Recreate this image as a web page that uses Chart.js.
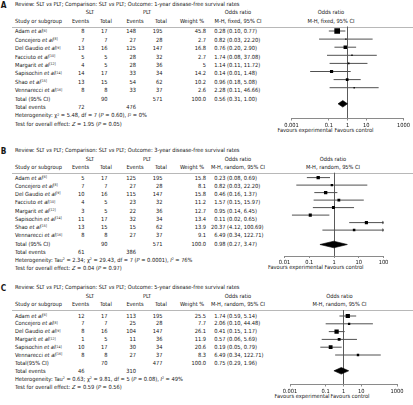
<!DOCTYPE html>
<html><head><meta charset="utf-8">
<script src="https://cdn.jsdelivr.net/npm/chart.js@4.4.1/dist/chart.umd.min.js"></script>
<style>
html,body{margin:0;padding:0;background:#fff;width:413px;height:405px;overflow:hidden}
#root{position:relative;width:413px;height:405px;font-family:'DejaVu Sans Condensed','DejaVu Sans',sans-serif;font-size:4.5px;color:#151515}
.t{position:absolute;white-space:nowrap;line-height:1}
.s{position:relative;top:-0.45em;font-size:0.62em}
canvas{position:absolute}
.rule{position:absolute;height:1px;background:#b8b8b8}
</style></head>
<body><div id="root"></div>
<script>
// ---------------- DATA ----------------
const studiesAB = ["Adam","Concejero","Del Gaudio","Facciuto","Margarit","Sapisochin","Shao","Vennarecci"];
const refsAB = [6,8,9,10,12,14,15,16];
const studiesC = ["Adam","Concejero","Del Gaudio","Margarit","Sapisochin","Vennarecci"];
const refsC = [6,8,9,12,14,16];

// Panel A: 1-year
const sltEventsA = [8,7,13,5,4,14,13,8];
const sltTotalA  = [17,7,16,5,5,17,15,8];
const pltEventsA = [148,27,125,28,28,33,54,33];
const pltTotalA  = [195,28,147,32,36,34,62,37];
const weightA    = [45.8,2.7,16.8,2.7,5,14.2,10.2,2.6];
const orA        = [0.28,0.82,0.76,1.74,1.14,0.14,0.96,2.28];
const loA        = [0.10,0.03,0.20,0.08,0.11,0.01,0.18,0.11];
const hiA        = [0.77,22.20,2.90,37.08,11.72,1.48,5.08,46.66];
const totalsA = [90,571];
const totalEventsA = [72,476];
const pooledA = [0.56,0.31,1.00];
const hetA = 'Heterogeneity: χ<span class="s">2</span> = 5.48, df = 7 (<i>P</i> = 0.60), <i>I</i><span class="s">2</span> = 0%';
const testA = 'Test for overall effect: <i>Z</i> = 1.95 (<i>P</i> = 0.05)';
const ticksA = [0.001,0.1,1,10,1000];
const tickLabelsA = ["0.001","0.1","1","10","1000"];

// Panel B: 3-year
const sltEventsB = [5,7,10,4,3,11,13,8];
const sltTotalB  = [17,7,16,5,5,17,15,8];
const pltEventsB = [125,27,115,23,22,32,15,27];
const pltTotalB  = [195,28,147,32,36,34,62,37];
const weightB    = [15.8,8.1,15.8,11.2,12.7,13.4,13.9,9.1];
const orB        = [0.23,0.82,0.46,1.57,0.95,0.11,20.37,6.49];
const loB        = [0.08,0.03,0.16,0.15,0.14,0.02,4.12,0.34];
const hiB        = [0.69,22.20,1.37,15.97,6.45,0.65,100.69,122.71];
const totalsB = [90,571];
const totalEventsB = [61,386];
const pooledB = [0.98,0.27,3.47];
const hetB = 'Heterogeneity: Tau<span class="s">2</span> = 2.34; χ<span class="s">2</span> = 29.43, df = 7 (<i>P</i> = 0.0001), <i>I</i><span class="s">2</span> = 76%';
const testB = 'Test for overall effect: <i>Z</i> = 0.04 (<i>P</i> = 0.97)';
const ticksB = [0.01,0.1,1,10,100];
const tickLabelsB = ["0.01","0.1","1","10","100"];

// Panel C: 5-year
const sltEventsC = [12,7,8,1,10,8];
const sltTotalC  = [17,7,16,5,17,8];
const pltEventsC = [113,25,104,11,30,27];
const pltTotalC  = [195,28,147,36,34,37];
const weightC    = [25.5,7.7,26.1,11.9,20.6,8.3];
const orC        = [1.74,2.06,0.41,0.57,0.19,6.49];
const loC        = [0.59,0.10,0.15,0.06,0.05,0.34];
const hiC        = [5.14,44.48,1.17,5.69,0.79,122.71];
const totalsC = [70,477];
const totalEventsC = [46,310];
const pooledC = [0.75,0.29,1.96];
const hetC = 'Heterogeneity: Tau<span class="s">2</span> = 0.63; χ<span class="s">2</span> = 9.81, df = 5 (<i>P</i> = 0.08), <i>I</i><span class="s">2</span> = 49%';
const testC = 'Test for overall effect: <i>Z</i> = 0.59 (<i>P</i> = 0.56)';
const ticksC = [0.001,0.1,1,10,1000];
const tickLabelsC = ["0.001","0.1","1","10","1000"];

// ---------------- LAYOUT ----------------
const L = {title:4.5, group:13.3, head:21.7, line:26.5};
const COL = {name:15, sltEv:84.5, sltTot:107.5, pltEv:136, pltTot:162.5, wt:206, orEst:225.5,
             sltGrp:90, pltGrp:147, evH1:80.5, totH1:106, evH2:135, totH2:161, wtH:192, orHdr:238};

const panels = [
  {letter:'A', outcome:'1-year disease-free survival rates', method:'fixed', totalLabel:'Total (95% CI)',
   top:0, textRow0:32.3, textRowH:8.4, plotRow0:31, plotRowH:8.1, diamondY:103.8, axisY:118.5,
   plotL:291.5, plotR:403.5, hdrX:331, favExp:305, favCtl:354,
   studies:studiesAB, refs:refsAB, sltEv:sltEventsA, sltTot:sltTotalA, pltEv:pltEventsA, pltTot:pltTotalA,
   wt:weightA, or:orA, lo:loA, hi:hiA, totals:totalsA, totEv:totalEventsA, pooled:pooledA, het:hetA, test:testA,
   ticks:ticksA, tickLabels:tickLabelsA},
  {letter:'B', outcome:'3-year disease-free survival rates', method:'random', totalLabel:'Total (95% CI)',
   top:146.2, textRow0:178.5, textRowH:8.25, plotRow0:177.6, plotRowH:7.5, diamondY:244.5, axisY:256,
   plotL:284.5, plotR:383.5, hdrX:333, favExp:295.5, favCtl:344,
   studies:studiesAB, refs:refsAB, sltEv:sltEventsB, sltTot:sltTotalB, pltEv:pltEventsB, pltTot:pltTotalB,
   wt:weightB, or:orB, lo:loB, hi:hiB, totals:totalsB, totEv:totalEventsB, pooled:pooledB, het:hetB, test:testB,
   ticks:ticksB, tickLabels:tickLabelsB},
  {letter:'C', outcome:'5-year disease-free survival rates', method:'random', totalLabel:'Total(95% CI)',
   top:283.5, textRow0:316.5, textRowH:7.9, plotRow0:316, plotRowH:7.8, diamondY:370.8, axisY:384.5,
   plotL:290, plotR:397, hdrX:339.5, favExp:302, favCtl:350,
   studies:studiesC, refs:refsC, sltEv:sltEventsC, sltTot:sltTotalC, pltEv:pltEventsC, pltTot:pltTotalC,
   wt:weightC, or:orC, lo:loC, hi:hiC, totals:totalsC, totEv:totalEventsC, pooled:pooledC, het:hetC, test:testC,
   ticks:ticksC, tickLabels:tickLabelsC}
];

const root = document.getElementById('root');
function T(html, x, y, align){
  const d = document.createElement('div'); d.className='t'; d.innerHTML = html;
  d.style.left = x+'px'; d.style.top = y+'px';
  const tx = align==='c' ? -50 : align==='r' ? -100 : 0;
  d.style.transform = 'translate('+tx+'%,-50%)';
  root.appendChild(d); return d;
}
function titleHtml(p){ return 'Review: SLT <i>vs</i> PLT; Comparison: SLT <i>vs</i> PLT; Outcome: '+p.outcome; }

// fit font size so that the title spans the same width as the reference
const probe = T(titleHtml(panels[0]), 15, 4.5, 'l');
const w0 = probe.getBoundingClientRect().width;
root.removeChild(probe);
const FS = 4.5 * 225 / w0;
root.style.fontSize = FS + 'px';

const FAM = "'DejaVu Sans Condensed', 'DejaVu Sans', sans-serif";
Chart.defaults.font.family = FAM;
Chart.defaults.font.size = FS;
Chart.defaults.color = '#151515';

function fmt(v){ return v.toFixed(2); }

function drawText(p){
  const t = p.top, n = p.studies.length;
  const yr = i => p.textRow0 + p.textRowH*i;
  const lt = T('<b>'+p.letter+'</b>', 3.5, t+L.title, 'c'); lt.style.fontSize='1.45em';
  T(titleHtml(p), COL.name, t+L.title, 'l');
  T('SLT', COL.sltGrp, t+L.group, 'c'); T('PLT', COL.pltGrp, t+L.group, 'c');
  T('Odds ratio', COL.orHdr, t+L.group, 'c'); T('Odds ratio', p.hdrX, t+L.group, 'c');
  T('Study or subgroup', COL.name, t+L.head, 'l');
  T('Events', COL.evH1, t+L.head, 'c'); T('Total', COL.totH1, t+L.head, 'c');
  T('Events', COL.evH2, t+L.head, 'c'); T('Total', COL.totH2, t+L.head, 'c');
  T('Weight %', COL.wtH, t+L.head, 'c');
  T('M-H, '+p.method+', 95% CI', COL.orHdr, t+L.head, 'c');
  T('M-H, '+p.method+', 95% CI', p.hdrX, t+L.head, 'c');
  const r = document.createElement('div'); r.className='rule';
  r.style.left='12px'; r.style.width='401px'; r.style.top=(Math.round(t+L.line)-0.5)+'px';
  root.appendChild(r);
  for(let i=0;i<n;i++){
    const y = yr(i);
    T(p.studies[i]+' <i>et al</i><span class="s">['+p.refs[i]+']</span>', COL.name, y, 'l');
    T(String(p.sltEv[i]), COL.sltEv, y, 'r');
    T(String(p.sltTot[i]), COL.sltTot, y, 'r');
    T(String(p.pltEv[i]), COL.pltEv, y, 'r');
    T(String(p.pltTot[i]), COL.pltTot, y, 'r');
    T(String(p.wt[i]), COL.wt, y, 'r');
    T(fmt(p.or[i]), COL.orEst, y, 'r');
    T('&nbsp;('+fmt(p.lo[i])+', '+fmt(p.hi[i])+')', COL.orEst, y, 'l');
  }
  let y = yr(n);
  T(p.totalLabel, COL.name, y, 'l');
  T(String(p.totals[0]), COL.sltTot, y, 'r');
  T(String(p.totals[1]), COL.pltTot, y, 'r');
  T('100.0', COL.wt, y, 'r');
  T(fmt(p.pooled[0]), COL.orEst, y, 'r');
  T('&nbsp;('+fmt(p.pooled[1])+', '+fmt(p.pooled[2])+')', COL.orEst, y, 'l');
  y = yr(n+1);
  T('Total events', COL.name, y, 'l');
  T(String(p.totEv[0]), COL.sltEv, y, 'r');
  T(String(p.totEv[1]), COL.pltEv, y, 'r');
  T(p.het, COL.name, yr(n+2), 'l');
  T(p.test, COL.name, yr(n+3), 'l');
  const fy = p.axisY + 12.3;
  T('Favours experimental', p.favExp, fy, 'c');
  T('Favours control', p.favCtl, fy, 'c');
}

function drawPlot(p){
  const n = p.studies.length;
  const cTop = p.top + L.line, axisAbs = p.axisY;
  const canvasTop = Math.floor(cTop) - 1;
  const canvasLeft = 262, canvasW = 151;
  const canvasH = Math.ceil(axisAbs + 11 - canvasTop);
  const padTop = cTop - canvasTop;
  const axH = canvasH - (axisAbs - canvasTop);
  const cv = document.createElement('canvas');
  cv.width = canvasW; cv.height = canvasH;
  cv.style.left = canvasLeft+'px'; cv.style.top = canvasTop+'px';
  cv.style.width = canvasW+'px'; cv.style.height = canvasH+'px';
  root.appendChild(cv);

  const yMin = (cTop - p.plotRow0)/p.plotRowH, yMax = (axisAbs - p.plotRow0)/p.plotRowH;
  const xMin = p.ticks[0], xMax = p.ticks[p.ticks.length-1];

  const ciData = [];
  for(let i=0;i<n;i++){ ciData.push({x:p.lo[i],y:i},{x:p.hi[i],y:i},{x:null,y:null}); }
  const ptData = p.or.map((v,i)=>({x:v,y:i}));
  const arrowData = [];
  p.hi.forEach((h,i)=>{ if(h > xMax) arrowData.push({x:xMax,y:i}); });
  const d = (p.diamondY - p.plotRow0)/p.plotRowH;   // pooled diamond row
  const hh = 3.3/p.plotRowH;
  const dia = [{x:p.pooled[1],y:d},{x:p.pooled[0],y:d-hh},{x:p.pooled[2],y:d},{x:p.pooled[0],y:d+hh},{x:p.pooled[1],y:d}];

  new Chart(cv, {
    type:'line',
    data:{datasets:[
      {data:ptData, showLine:false, pointStyle:'rect', backgroundColor:'#000', borderWidth:0,
       pointRadius:(ctx)=>Math.max(1.2, 0.84*Math.sqrt(p.wt[ctx.dataIndex]))/1.414, order:0},
      {data:arrowData, showLine:false, pointStyle:'triangle', rotation:90, backgroundColor:'#222',
       borderWidth:0, pointRadius:2, order:1},
      {data:dia, borderColor:'#000', backgroundColor:'#000', borderWidth:0.6, pointRadius:0,
       fill:'shape', tension:0, order:2},
      {data:ciData, borderColor:'#505050', borderWidth:1, pointRadius:0, spanGaps:false, tension:0, order:3}
    ]},
    options:{
      responsive:false, animation:false, devicePixelRatio:1,
      layout:{autoPadding:false, padding:{left:p.plotL-canvasLeft, right:canvasLeft+canvasW-p.plotR, top:padTop, bottom:0}},
      plugins:{legend:{display:false}, tooltip:{enabled:false}},
      scales:{
        x:{type:'logarithmic', min:xMin, max:xMax, position:'bottom',
           afterBuildTicks:(s)=>{ s.ticks = p.ticks.map(v=>({value:v})); },
           afterFit:(s)=>{ s.height = axH; },
           ticks:{autoSkip:false, maxRotation:0, minRotation:0, padding:1.5,
                  callback:(v,i)=>p.tickLabels[i], font:{size:FS, family:FAM}},
           grid:{drawOnChartArea:true, tickLength:2,
                 color:(ctx)=> (ctx.tick && ctx.tick.value===1) ? '#5a5a5a' : 'rgba(0,0,0,0)',
                 tickColor:'#8a8a8a', lineWidth:1},
           border:{display:true, color:'#8a8a8a', width:1}},
        y:{type:'linear', reverse:true, min:yMin, max:yMax, display:false}
      }
    }
  });
}

panels.forEach(p=>{ drawText(p); drawPlot(p); });
</script></body></html>
